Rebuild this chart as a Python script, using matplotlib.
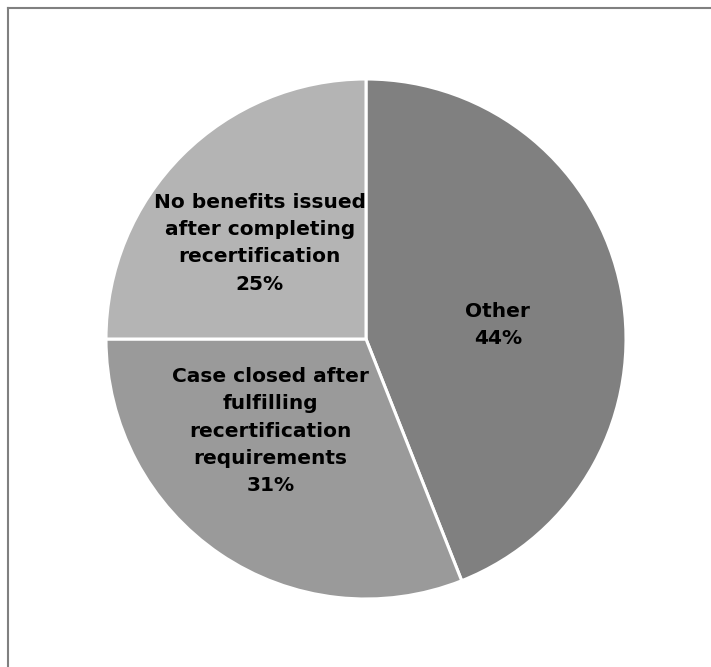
import matplotlib.pyplot as plt
from matplotlib.lines import Line2D
import numpy as np

# slice data, clockwise from 12 o'clock
labels = ["Other",
          "Case closed after\nfulfilling\nrecertification\nrequirements",
          "No benefits issued\nafter completing\nrecertification"]
shares = [44, 31, 25]
colors = ["#808080", "#9a9a9a", "#b4b4b4"]

# where each label sits: (angle in degrees, fraction of radius)
label_pos = [(6, 0.51), (224, 0.51), (138, 0.55)]

W, H = 711, 667
fig = plt.figure(figsize=(W / 100, H / 100), dpi=100)
fig.patch.set_facecolor("white")

# pie area in pixels: centre (366, 339), radius 260
cx, cy, r = 366, 339, 260
ax = fig.add_axes([(cx - r) / W, (H - cy - r) / H, 2 * r / W, 2 * r / H])

wedges, _ = ax.pie(shares, colors=colors, startangle=90, counterclock=False,
                   radius=1.0, wedgeprops=dict(edgecolor="white", linewidth=2.2))
ax.set_xlim(-1, 1)
ax.set_ylim(-1, 1)
ax.set_aspect("equal")
ax.axis("off")

for lab, val, (ang, dist) in zip(labels, shares, label_pos):
    a = np.deg2rad(ang)
    ax.text(dist * np.cos(a), dist * np.sin(a), f"{lab}\n{val}%",
            ha="center", va="center", fontsize=14.5, fontweight="bold",
            family="DejaVu Sans", color="black", linespacing=1.55)

# chart frame (only the left and top edges are in view)
fx = 7.5 / W
fy = 1 - 7.5 / H
fig.add_artist(Line2D([fx, fx], [0, fy], transform=fig.transFigure,
                      color="#808080", linewidth=1.5))
fig.add_artist(Line2D([fx, 1], [fy, fy], transform=fig.transFigure,
                      color="#808080", linewidth=1.5))

fig.savefig("out.png", dpi=100, facecolor="white")
